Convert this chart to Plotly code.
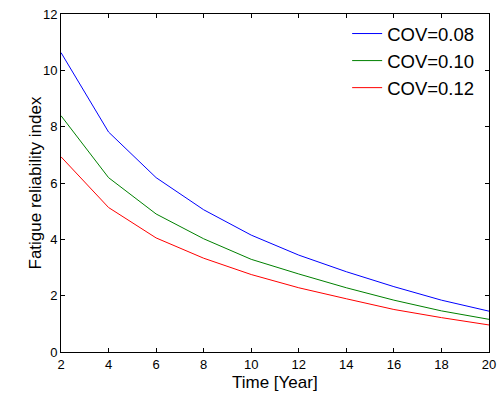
import plotly.graph_objects as go

years = [2, 4, 6, 8, 10, 12, 14, 16, 18, 20]
cov_008 = [10.63, 7.81, 6.19, 5.05, 4.15, 3.44, 2.85, 2.32, 1.84, 1.45]
cov_010 = [8.39, 6.19, 4.90, 4.02, 3.29, 2.77, 2.28, 1.84, 1.46, 1.16]
cov_012 = [6.93, 5.13, 4.05, 3.33, 2.75, 2.28, 1.89, 1.51, 1.22, 0.96]
names = ["COV=0.08", "COV=0.10", "COV=0.12"]
colors = ["#0000FF", "#008000", "#FF0000"]
x_title = "Time [Year]"
y_title = "Fatigue reliability index"

fig = go.Figure()
for name, vals, col in zip(names, [cov_008, cov_010, cov_012], colors):
    fig.add_trace(go.Scatter(x=years, y=vals, mode="lines", name=name,
                             line=dict(color=col, width=1)))

font = "Liberation Sans, Arial, sans-serif"
axis_common = dict(showgrid=False, zeroline=False, showline=True, linecolor="black",
                   linewidth=1, mirror="ticks", ticks="inside", ticklen=4,
                   tickcolor="black", automargin=False, ticklabeloverflow="allow",
                   tickfont=dict(family=font, size=13, color="black"))
fig.update_layout(
    width=502, height=394,
    margin=dict(l=61, r=13, t=14, b=42, autoexpand=False),
    paper_bgcolor="white", plot_bgcolor="white",
    font=dict(family=font, color="black"),
    xaxis=dict(range=[2, 20], tickvals=list(range(2, 21, 2)), **axis_common),
    yaxis=dict(range=[0, 12], tickvals=list(range(0, 13, 2)), **axis_common),
    legend=dict(x=0.977, xanchor="right", y=0.997, yanchor="top", bgcolor="rgba(0,0,0,0)",
                font=dict(family=font, size=18.5, color="black"), tracegroupgap=0),
    showlegend=True,
    annotations=[
        dict(text=x_title, xref="paper", yref="paper", x=0.5, y=-0.0916,
             xanchor="center", yanchor="middle", showarrow=False,
             font=dict(family=font, size=17, color="black")),
        dict(text=y_title, xref="paper", yref="paper", x=-0.0596, y=0.5,
             xanchor="center", yanchor="middle", textangle=-90, showarrow=False,
             font=dict(family=font, size=17, color="black")),
    ],
)
fig.write_html("out.html", config={"displayModeBar": False},
               post_script="document.body.style.margin='0';document.body.style.overflow='hidden';")
